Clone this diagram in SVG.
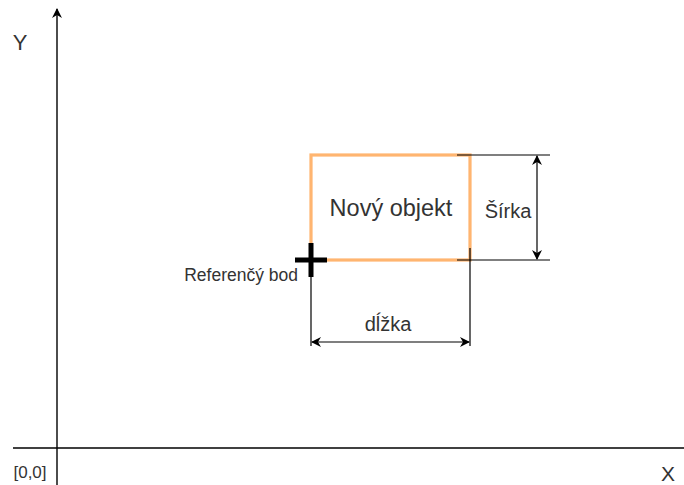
<svg xmlns="http://www.w3.org/2000/svg" width="684" height="485" viewBox="0 0 684 485">
  <defs>
    <marker id="arrow" viewBox="0 0 10 10" refX="9" refY="5" markerWidth="10" markerHeight="10" markerUnits="userSpaceOnUse" orient="auto-start-reverse">
      <path d="M0,0 L10,5 L0,10 L3,5 Z" fill="#000"/>
    </marker>
  </defs>
  <style>
    .line { stroke: #000; stroke-width: 1.2; fill: none; }
    .axis { stroke: #000; stroke-width: 1.4; fill: none; }
    .lbl { font-family: "Liberation Sans", Arial, sans-serif; fill: #333; }
  </style>
  <rect width="684" height="485" fill="#fff"/>

  <!-- coordinate axes -->
  <g id="axes">
    <line class="axis" x1="57" y1="485" x2="57" y2="9" marker-end="url(#arrow)"/>
    <line class="axis" x1="13" y1="448" x2="684" y2="448"/>
    <text class="lbl" x="20" y="50" font-size="22" text-anchor="middle">Y</text>
    <text class="lbl" x="668" y="481" font-size="21" text-anchor="middle">X</text>
    <text class="lbl" x="30" y="478" font-size="17" text-anchor="middle">[0,0]</text>
  </g>

  <!-- the new object -->
  <g id="object">
    <rect x="311" y="155" width="159" height="105" fill="none" stroke="#FFB570" stroke-width="3.2"/>
    <text class="lbl" x="391" y="216" font-size="23.5" text-anchor="middle">Nový objekt</text>
  </g>

  <!-- reference point -->
  <g id="reference">
    <path d="M311,243 V277 M295,260 H327" stroke="#000" stroke-width="5" fill="none"/>
    <text class="lbl" x="298" y="281" font-size="17.5" text-anchor="end">Referenčý bod</text>
  </g>

  <!-- dimension lines -->
  <g id="connectors">
    <line class="line" x1="457" y1="155" x2="550" y2="155"/>
    <line class="line" x1="457" y1="260" x2="550" y2="260"/>
    <line class="line" x1="537" y1="156" x2="537" y2="259" marker-start="url(#arrow)" marker-end="url(#arrow)"/>
    <line class="line" x1="311" y1="262" x2="311" y2="346"/>
    <line class="line" x1="470" y1="248" x2="470" y2="346"/>
    <line class="line" x1="312" y1="342" x2="469" y2="342" marker-start="url(#arrow)" marker-end="url(#arrow)"/>
  </g>

  <g id="labels">
    <text class="lbl" x="508" y="218" font-size="20" text-anchor="middle">Šírka</text>
    <text class="lbl" x="388" y="331" font-size="20" text-anchor="middle">dĺžka</text>
  </g>
</svg>
